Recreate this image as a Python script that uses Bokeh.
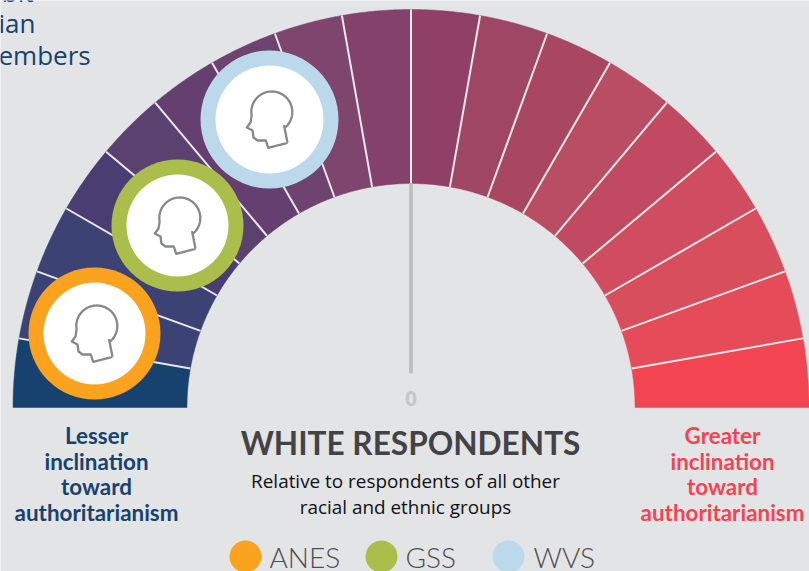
import numpy as np
from bokeh.plotting import figure
from bokeh.models import Range1d
from bokeh.embed import file_html
from bokeh.resources import INLINE
from bokeh.core.properties import value

# ---- data ----
bin_edges_deg = [180,170,160,150,140,130,120,110,100,90,80,70,60,50,40,30,20,10,0]
bin_colors = ["#174270","#3b4374","#3c4274","#4a3d72","#5b4170","#643f6f","#6f4370","#7e456e","#84416b",
              "#904066","#9e4663","#a94662","#b84d64","#c14a62","#d04c60","#d94e5c","#e64b59","#f34452"]
survey_names = ["ANES","GSS","WVS"]
survey_colors = ["#fba31f","#abbe4b","#bcd9ec"]
survey_x = [94,177,269]
survey_y = [333,225,119]
survey_outer = [66,66,69]
survey_inner = [51,51,54]
legend_x = [245,381,508]
legend_label_x = [269,405,533]
CX, CY, R_IN, R_OUT = 410.5, 407, 224, 398

BG = "#e3e4e6"
W, H = 809, 571
p = figure(width=W, height=H, output_backend="svg", toolbar_location=None,
           x_range=Range1d(0, W), y_range=Range1d(H, 0),
           background_fill_color=BG, border_fill_color=BG, outline_line_color=None,
           min_border=0)
p.axis.visible = False
p.grid.visible = False

theta = np.radians(bin_edges_deg)
for i, c in enumerate(bin_colors):
    a = np.linspace(theta[i], theta[i+1], 40)
    xs = np.r_[CX+R_OUT*np.cos(a), CX+R_IN*np.cos(a[::-1])]
    ys = np.r_[CY-R_OUT*np.sin(a), CY-R_IN*np.sin(a[::-1])]
    p.patch(xs, ys, fill_color=c, line_color=c, line_width=0.5)

inner = theta[1:-1]
p.multi_line([[CX+R_IN*np.cos(t), CX+R_OUT*np.cos(t)] for t in inner],
             [[CY-R_IN*np.sin(t), CY-R_OUT*np.sin(t)] for t in inner],
             line_color="#e8e9ea", line_width=2)

p.line([CX, CX], [183, 373], line_color="#bfc0c2", line_width=4)
p.text([CX], [398], text=["0"], text_align="center", text_baseline="middle",
       text_font=value("Open Sans"), text_font_style="bold", text_font_size="21px", text_color="#c5c6c8")

a = np.radians(np.linspace(-48, 190, 50))
skull_x = 2.3 + 20.5*np.cos(a)
skull_y = -7.5 - 20.5*np.sin(a)
head_x = np.r_[18, 14.7, skull_x, -19, -22.7, -17, -16, -12, -3.7, -1.3, 18]
head_y = np.r_[23.3, 6.5, skull_y, 3, 8, 11, 18, 21, 21, 28.3, 23.3]

for x, y, ro, ri, c in zip(survey_x, survey_y, survey_outer, survey_inner, survey_colors):
    p.circle([x], [y], radius=ro, fill_color=c, line_color=None)
    p.circle([x], [y], radius=ri, fill_color="white", line_color=None)
    p.line(x+head_x, y+head_y, line_color="#87888a", line_width=2.3, line_join="round")

def lines(x, ys, txts, font, size, color, style="normal", align="center"):
    # the page renders alphabetic text lower than its coordinate; compensate
    ys = [y - 0.4*size for y in ys]
    p.text([x]*len(ys), ys, text=txts, text_align=align, text_baseline="alphabetic",
           text_font=value(font), text_font_style=style, text_font_size=f"{size}px", text_color=color)

lines(96, [444,470,495,521], ["Lesser","inclination","toward","authoritarianism"], "Lato", 22.4, "#17426f", "bold")
lines(722, [444,470,495,521], ["Greater","inclination","toward","authoritarianism"], "Lato", 22.4, "#f34452", "bold")
lines(410, [455], ["WHITE RESPONDENTS"], "Lato", 31.6, "#434345", "bold")
lines(405, [488], ["Relative to respondents of all other"], "Open Sans", 18.9, "#111111")
lines(405, [514], ["racial and ethnic groups"], "Open Sans", 18.9, "#111111")
lines(-2, [33,65], ["ian","embers"], "Open Sans", 26, "#17426f", align="left")
lines(33, [2], ["bit"], "Open Sans", 26, "#17426f", align="right")

p.circle(legend_x, [556]*3, radius=16, fill_color=survey_colors, line_color=None)
for x, n in zip(legend_label_x, survey_names):
    lines(x, [568], [n], "Lato Light", 28, "#4d4e50", align="left")

open("out.html", "w").write(file_html(p, INLINE))
